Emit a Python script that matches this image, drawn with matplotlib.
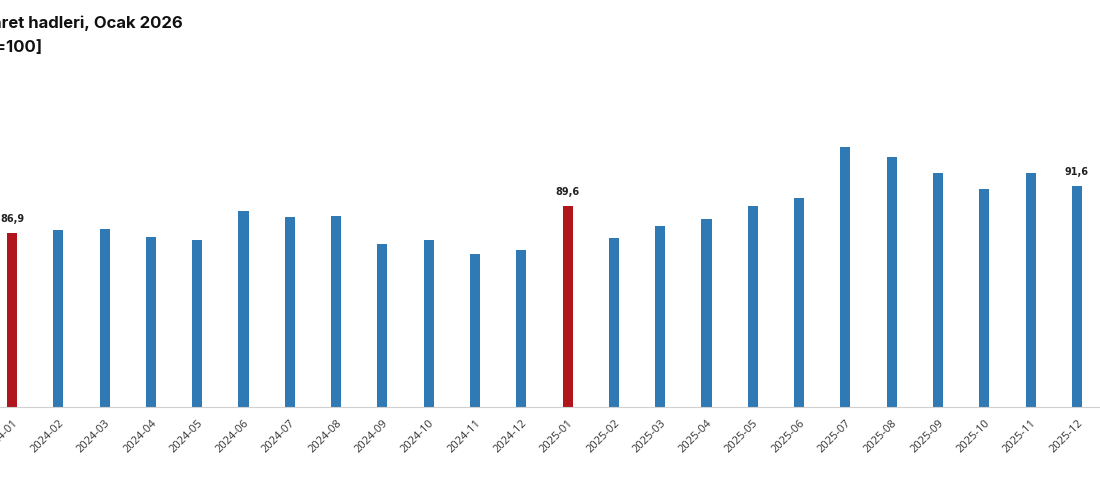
import matplotlib
matplotlib.use("Agg")
import matplotlib.pyplot as plt

periods = ["2024-01","2024-02","2024-03","2024-04","2024-05","2024-06","2024-07","2024-08",
           "2024-09","2024-10","2024-11","2024-12","2025-01","2025-02","2025-03","2025-04",
           "2025-05","2025-06","2025-07","2025-08","2025-09","2025-10","2025-11","2025-12","2026-01"]
values = [86.9,87.2,87.3,86.5,86.2,89.1,88.5,88.6,85.8,86.2,84.8,85.2,89.6,86.4,87.6,88.3,
          89.6,90.4,95.5,94.5,92.9,91.3,92.9,91.6,90.5]
highlight = {"2024-01","2025-01","2026-01"}
labeled = {"2024-01","2025-01","2025-12","2026-01"}

W, H = 1100, 487
fig = plt.figure(figsize=(W/100, H/100), dpi=100)
base_px, top_px = 407, 60
ax = fig.add_axes([0, (H-base_px)/H, 1, (base_px-top_px)/H])
step, x0 = 46.3, 12
ymin = 69.5

x = list(range(len(periods)))
colors = ["#b0151c" if p in highlight else "#2f79b5" for p in periods]
ax.bar(x, [v-ymin for v in values], bottom=ymin, width=0.22, color=colors)
for i, (p, v) in enumerate(zip(periods, values)):
    if p in labeled:
        ax.text(i, v + 0.9, f"{v:.1f}".replace(".", ","), ha="center", va="bottom",
                fontsize=7, fontweight="bold", color="#222", clip_on=True)
ax.set_xticks(x)
ax.set_xticklabels(periods, rotation=45, ha="right", rotation_mode="anchor",
                   fontsize=8, color="#333", family="Open Sans")
ax.tick_params(axis="x", length=0, pad=8)
ax.set_yticks([])
for s in ["top", "right", "left"]:
    ax.spines[s].set_visible(False)
ax.spines["bottom"].set_color("#d0d0d0")
ax.set_xlim(-x0/step, (W-x0)/step)
ax.set_ylim(ymin, ymin + (base_px-top_px)/10)

fig.text(183/W, 1-23/H, "Dış ticaret hadleri, Ocak 2026", ha="right", va="center",
         fontsize=12, fontweight="bold", family="Inter", color="#111")
fig.text(43/W, 1-47/H, "[2010=100]", ha="right", va="center",
         fontsize=12, fontweight="bold", family="Inter", color="#111")
fig.savefig("out.png", dpi=100)
